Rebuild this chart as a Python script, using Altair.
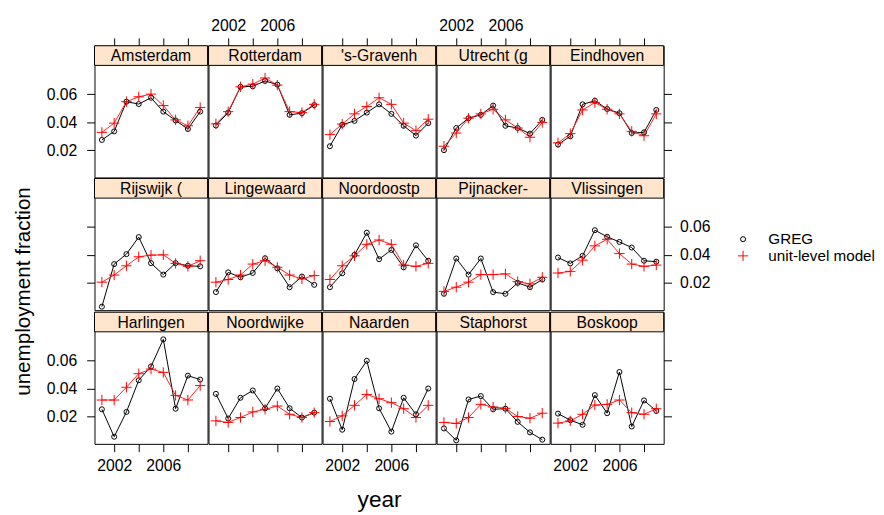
import altair as alt
import pandas as pd

years = list(range(2001, 2010))
regions = ["Amsterdam", "Rotterdam", "'s-Gravenh", "Utrecht (g", "Eindhoven",
           "Rijswijk (", "Lingewaard", "Noordoostp", "Pijnacker-", "Vlissingen",
           "Harlingen", "Noordwijke", "Naarden", "Staphorst", "Boskoop"]
series_names = ["GREG", "unit-level model"]
x_ticks = [2002, 2004, 2006, 2008]
y_ticks = [0.02, 0.04, 0.06]

greg_amsterdam = [0.0273, 0.0334, 0.0546, 0.0529, 0.0574, 0.0475, 0.0412, 0.0351, 0.0475]
model_amsterdam = [0.0327, 0.0393, 0.0546, 0.0581, 0.0600, 0.0518, 0.0416, 0.0374, 0.0504]
greg_rotterdam = [0.0376, 0.0468, 0.0652, 0.0656, 0.0694, 0.0668, 0.0452, 0.0464, 0.0522]
model_rotterdam = [0.0388, 0.0475, 0.0652, 0.0671, 0.0715, 0.0664, 0.0475, 0.0468, 0.0527]
greg_gravenh = [0.0228, 0.0381, 0.0409, 0.0468, 0.0527, 0.0459, 0.0374, 0.0304, 0.0393]
model_gravenh = [0.0311, 0.0386, 0.0459, 0.0511, 0.0574, 0.0527, 0.0393, 0.0339, 0.0421]
greg_utrecht = [0.0200, 0.0358, 0.0428, 0.0452, 0.0518, 0.0374, 0.0358, 0.0318, 0.0416]
model_utrecht = [0.0228, 0.0322, 0.0428, 0.0459, 0.0492, 0.0416, 0.0358, 0.0292, 0.0398]
greg_eindhoven = [0.0240, 0.0299, 0.0527, 0.0553, 0.0494, 0.0464, 0.0322, 0.0327, 0.0487]
model_eindhoven = [0.0252, 0.0318, 0.0487, 0.0539, 0.0492, 0.0459, 0.0334, 0.0303, 0.0459]
greg_rijswijk = [0.0030, 0.0334, 0.0405, 0.0527, 0.0341, 0.0259, 0.0341, 0.0322, 0.0318]
model_rijswijk = [0.0205, 0.0256, 0.0322, 0.0386, 0.0398, 0.0400, 0.0339, 0.0318, 0.0358]
greg_lingewaard = [0.0134, 0.0275, 0.0240, 0.0271, 0.0376, 0.0304, 0.0169, 0.0245, 0.0186]
model_lingewaard = [0.0205, 0.0224, 0.0256, 0.0334, 0.0358, 0.0311, 0.0256, 0.0228, 0.0252]
greg_noordoostp = [0.0169, 0.0268, 0.0400, 0.0558, 0.0369, 0.0435, 0.0311, 0.0468, 0.0358]
model_noordoostp = [0.0224, 0.0322, 0.0393, 0.0475, 0.0506, 0.0475, 0.0327, 0.0318, 0.0339]
greg_pijnacker = [0.0122, 0.0374, 0.0259, 0.0374, 0.0134, 0.0122, 0.0200, 0.0169, 0.0224]
model_pijnacker = [0.0139, 0.0169, 0.0205, 0.0259, 0.0259, 0.0264, 0.0209, 0.0193, 0.0240]
greg_vlissingen = [0.0381, 0.0339, 0.0393, 0.0576, 0.0529, 0.0492, 0.0452, 0.0358, 0.0351]
model_vlissingen = [0.0270, 0.0282, 0.0362, 0.0464, 0.0511, 0.0409, 0.0334, 0.0318, 0.0327]
greg_harlingen = [0.0252, 0.0056, 0.0233, 0.0459, 0.0558, 0.0751, 0.0256, 0.0492, 0.0464]
model_harlingen = [0.0318, 0.0318, 0.0409, 0.0506, 0.0539, 0.0515, 0.0351, 0.0318, 0.0421]
greg_noordwijke = [0.0362, 0.0186, 0.0334, 0.0386, 0.0259, 0.0400, 0.0259, 0.0193, 0.0228]
model_noordwijke = [0.0169, 0.0158, 0.0193, 0.0233, 0.0252, 0.0275, 0.0216, 0.0193, 0.0228]
greg_naarden = [0.0327, 0.0106, 0.0468, 0.0598, 0.0259, 0.0092, 0.0334, 0.0216, 0.0400]
model_naarden = [0.0165, 0.0205, 0.0280, 0.0358, 0.0327, 0.0299, 0.0256, 0.0193, 0.0280]
greg_staphorst = [0.0115, 0.0030, 0.0322, 0.0346, 0.0252, 0.0256, 0.0162, 0.0087, 0.0035]
model_staphorst = [0.0158, 0.0151, 0.0193, 0.0287, 0.0268, 0.0259, 0.0200, 0.0188, 0.0224]
greg_boskoop = [0.0221, 0.0174, 0.0141, 0.0353, 0.0224, 0.0518, 0.0129, 0.0315, 0.0240]
model_boskoop = [0.0153, 0.0169, 0.0216, 0.0282, 0.0287, 0.0318, 0.0228, 0.0216, 0.0256]

greg = dict(zip(regions, [greg_amsterdam, greg_rotterdam, greg_gravenh, greg_utrecht, greg_eindhoven,
                          greg_rijswijk, greg_lingewaard, greg_noordoostp, greg_pijnacker, greg_vlissingen,
                          greg_harlingen, greg_noordwijke, greg_naarden, greg_staphorst, greg_boskoop]))
model = dict(zip(regions, [model_amsterdam, model_rotterdam, model_gravenh, model_utrecht, model_eindhoven,
                           model_rijswijk, model_lingewaard, model_noordoostp, model_pijnacker, model_vlissingen,
                           model_harlingen, model_noordwijke, model_naarden, model_staphorst, model_boskoop]))

FONT = "Liberation Sans"
STRIP = "#FFE5CC"
W, H, SH = 115, 114, 20

x_scale = alt.Scale(domain=[2000.4, 2009.6], nice=False, zero=False)
y_scale = alt.Scale(domain=[0.0005, 0.0805], range=[H + SH, SH], nice=False, zero=False)

PLUS = "M-1,0L1,0M0,-1L0,1"
legend = alt.Legend(title=None, orient="none", legendX=652, legendY=189, padding=0,
                    labelFontSize=15.5, labelColor="black", labelFont=FONT, labelOffset=18,
                    rowPadding=0, symbolStrokeWidth=1)
color_enc = alt.Color("series:N", scale=alt.Scale(domain=series_names, range=["black", "red"]), legend=legend)
shape_enc = alt.Shape("series:N", scale=alt.Scale(domain=series_names, range=["circle", PLUS]), legend=legend)
size_enc = alt.Size("series:N", scale=alt.Scale(domain=series_names, range=[26, 110]), legend=legend)

AX = dict(domain=False, grid=False, ticks=True, tickSize=8, tickColor="black", tickWidth=1,
          labelFontSize=16, labelColor="black", labelFont=FONT, labelFlush=False, labelOverlap=False)
X_LABEL_EXPR = "(datum.value == 2002 || datum.value == 2006) ? datum.label : ''"


def x_axis(row, col):
    if row == 0:
        return alt.Axis(orient="top", values=x_ticks, format="d", labelExpr=X_LABEL_EXPR,
                        labelOpacity=1 if col in (1, 3) else 0, labelPadding=4, title=None, **AX)
    if row == 2:
        if col == 2:
            return alt.Axis(orient="bottom", values=x_ticks, format="d", labelExpr=X_LABEL_EXPR,
                            labelPadding=6, title="year", titleFontSize=23, titleFontWeight="normal",
                            titleColor="black", titleFont=FONT, titlePadding=16, **AX)
        return alt.Axis(orient="bottom", values=x_ticks, format="d", labelExpr=X_LABEL_EXPR,
                        labels=col in (0, 4), labelPadding=6, title=None, **AX)
    return None


def y_axis(row, col):
    if col == 0:
        return alt.Axis(orient="left", values=y_ticks, format=".2f", labelPadding=10,
                        labelOpacity=0 if row == 1 else 1, title=None, **AX)
    if col == 4:
        return alt.Axis(orient="right", values=y_ticks, format=".2f", labelPadding=8,
                        labels=(row == 1), title=None, **AX)
    return None


def make_cell(idx):
    name = regions[idx]
    row, col = divmod(idx, 5)
    n = len(years)
    df = pd.DataFrame({
        "year": years + years,
        "value": greg[name] + model[name],
        "series": [series_names[0]] * n + [series_names[1]] * n,
    })
    X = alt.X("year:Q", scale=x_scale, axis=x_axis(row, col))
    Y = alt.Y("value:Q", scale=y_scale, axis=y_axis(row, col))
    lab = pd.DataFrame({"region": [name]})
    strip = alt.Chart(lab).mark_rect(fill=STRIP, stroke="black", strokeWidth=1).encode(
        x=alt.value(0), x2=alt.value(W), y=alt.value(0), y2=alt.value(SH))
    text = alt.Chart(lab).mark_text(fontSize=16, color="black", font=FONT, baseline="middle").encode(
        x=alt.value(W / 2), y=alt.value(SH / 2 + 1), text="region:N")
    base = alt.Chart(df)
    l1 = base.transform_filter(alt.datum.series == series_names[0]).mark_line(
        color="black", strokeWidth=1).encode(x=X, y=Y)
    l2 = base.transform_filter(alt.datum.series == series_names[1]).mark_line(
        color="#FF2020", strokeWidth=1).encode(x=X, y=Y)
    pts = base.mark_point(filled=False, opacity=1, strokeWidth=1).encode(
        x=X, y=Y, color=color_enc, shape=shape_enc, size=size_enc)
    return alt.layer(strip, text, l1, l2, pts).properties(width=W, height=H + SH)


rows = [alt.hconcat(*[make_cell(r * 5 + c) for c in range(5)], spacing=-2) for r in range(3)]
chart = alt.vconcat(*rows, spacing=-2).properties(
    title=alt.TitleParams("unemployment fraction", orient="left", anchor="middle", fontSize=21,
                          fontWeight="normal", color="black", font=FONT, offset=12, dx=-27),
    padding={"left": 5, "top": 5, "right": 0, "bottom": 0},
).configure(font=FONT, background="white").configure_view(stroke="black", strokeWidth=1)

chart.save("out.html", embed_options={"renderer": "svg", "actions": False})
